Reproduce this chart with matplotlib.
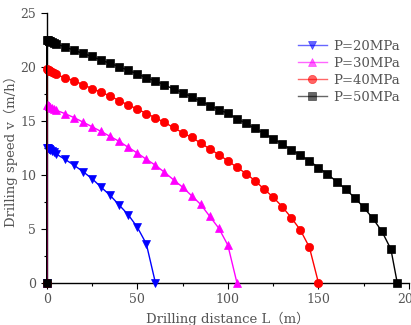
import matplotlib
matplotlib.use("Agg")
import matplotlib.pyplot as plt
from matplotlib.ticker import MultipleLocator

plt.rcParams['font.family'] = ['DejaVu Serif', 'Noto Sans CJK SC']

near0 = [0, 0, 0.5, 1, 1.5, 2, 3, 4]
L20 = near0 + [5, 10, 15, 20, 25, 30, 35, 40, 45, 50, 55, 60]
v20 = [0, 12.5, 12.45, 12.4, 12.35, 12.3, 12.2, 12.1, 11.95, 11.45, 10.9, 10.3, 9.65, 8.86, 8.1, 7.2, 6.3, 5.15, 3.6, 0]

L30 = near0 + [5, 10, 15, 20, 25, 30, 35, 40, 45, 50, 55, 60, 65, 70, 75, 80, 85, 90, 95, 100, 105]
v30 = [0, 16.5, 16.45, 16.4, 16.35, 16.3, 16.2, 16.1, 16.0, 15.68, 15.31, 14.89, 14.46, 14.02, 13.56, 13.1,
       12.55, 12.02, 11.44, 10.89, 10.24, 9.54, 8.86, 8.06, 7.26, 6.15, 5.05, 3.48, 0]

L40 = near0 + [5, 10, 15, 20, 25, 30, 35, 40, 45, 50, 55, 60, 65, 70, 75, 80, 85, 90, 95, 100,
               105, 110, 115, 120, 125, 130, 135, 140, 145, 150]
v40 = [0, 19.8, 19.75, 19.7, 19.65, 19.6, 19.5, 19.4, 19.3, 19.0, 18.73, 18.36, 18.0, 17.66, 17.3, 16.88,
       16.47, 16.1, 15.68, 15.29, 14.85, 14.39, 13.9, 13.47, 12.95, 12.4, 11.87, 11.29, 10.7, 10.12,
       9.45, 8.67, 7.93, 7.05, 6.03, 4.89, 3.29, 0]

L50 = near0 + [5, 10, 15, 20, 25, 30, 35, 40, 45, 50, 55, 60, 65, 70, 75, 80, 85, 90, 95, 100,
               105, 110, 115, 120, 125, 130, 135, 140, 145, 150, 155, 160, 165, 170, 175, 180,
               185, 190, 193.5]
v50 = [0, 22.5, 22.47, 22.44, 22.41, 22.38, 22.3, 22.22, 22.15, 21.86, 21.56, 21.25, 20.97, 20.64,
       20.33, 20.02, 19.69, 19.35, 19.0, 18.7, 18.33, 17.96, 17.62, 17.22, 16.83, 16.42, 16.05,
       15.7, 15.22, 14.76, 14.3, 13.84, 13.35, 12.86, 12.33, 11.81, 11.29, 10.67, 10.06, 9.38,
       8.67, 7.88, 6.98, 5.97, 4.77, 3.11, 0]

series = [
    (L20, v20, 'P=20MPa', 'blue', 'v'),
    (L30, v30, 'P=30MPa', 'magenta', '^'),
    (L40, v40, 'P=40MPa', 'red', 'o'),
    (L50, v50, 'P=50MPa', 'black', 's'),
]

fig = plt.figure(figsize=(4.11, 3.25), dpi=100)
ax = fig.add_axes([46.7 / 411, 1 - 282.7 / 325, (409 - 46.7) / 411, (282.7 - 13) / 325])

for L, v, lab, c, m in series:
    ax.plot(L, v, color=c, marker=m, markersize=6, linewidth=1.0, label=lab,
            markeredgewidth=0.5, clip_on=False, zorder=3)

ax.set_xlim(0, 200)
ax.set_ylim(0, 25)
ax.xaxis.set_major_locator(MultipleLocator(50))
ax.xaxis.set_minor_locator(MultipleLocator(25))
ax.yaxis.set_major_locator(MultipleLocator(5))
ax.yaxis.set_minor_locator(MultipleLocator(2.5))
for s in ['top', 'right']:
    ax.spines[s].set_visible(False)
for s in ['bottom', 'left']:
    ax.spines[s].set_linewidth(1.0)
ax.tick_params(which='major', direction='out', length=4, width=0.8, labelsize=9, labelcolor='#555555')
ax.tick_params(which='minor', direction='out', length=2.5, width=0.8)

ax.set_xlabel('Drilling distance L（m）', fontsize=9.5, color='#555555', labelpad=4)
ax.set_ylabel('Drilling speed v（m/h）', fontsize=9.5, color='#555555', labelpad=2)

leg = ax.legend(loc='upper left', bbox_to_anchor=(0.675, 0.925), frameon=False, fontsize=9.5,
                handlelength=2.2, handletextpad=0.5, labelspacing=0.3, borderpad=0)
for t in leg.get_texts():
    t.set_color('#555555')
for h in leg.legend_handles:
    h.set_alpha(0.6)

fig.savefig('out.png', dpi=100)
